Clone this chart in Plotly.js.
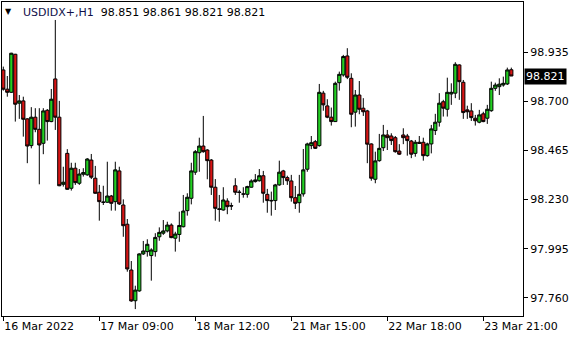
<!DOCTYPE html>
<html>
<head>
<meta charset="utf-8">
<script src="https://cdn.plot.ly/plotly-3.0.1.min.js"></script>
<style>html,body{margin:0;padding:0;background:#fff;}#chart{width:580px;height:340px;}</style>
</head>
<body>
<div id="chart"></div>
<script>
const symbolLabel = "USDIDX+,H1";
const lastOHLC = ["98.851", "98.861", "98.821", "98.821"];
const lastPrice = 98.821;

const openP = [98.850,98.758,98.743,98.925,98.691,98.702,98.616,98.488,98.624,98.566,
98.499,98.657,98.603,98.807,98.624,98.303,98.451,98.284,98.380,98.308,
98.351,98.348,98.419,98.332,98.265,98.218,98.217,98.247,98.220,98.367,
98.204,98.112,97.893,97.746,97.793,97.970,97.981,97.962,97.981,98.052,
98.069,98.080,98.108,98.045,98.063,98.100,98.177,98.236,98.361,98.454,
98.486,98.467,98.419,98.289,98.186,98.180,98.223,98.201,98.296,98.266,
98.257,98.255,98.289,98.316,98.320,98.344,98.255,98.226,98.225,98.300,
98.367,98.335,98.319,98.239,98.215,98.257,98.375,98.488,98.507,98.488,
98.739,98.678,98.624,98.603,98.789,98.826,98.917,98.810,98.648,98.730,
98.667,98.654,98.496,98.327,98.416,98.478,98.539,98.534,98.526,98.462,
98.539,98.534,98.510,98.451,98.504,98.504,98.440,98.496,98.560,98.600,
98.698,98.662,98.735,98.739,98.874,98.791,98.659,98.654,98.619,98.600,
98.640,98.619,98.655,98.762,98.770,98.778,98.783,98.851];

const highP = [98.866,98.821,98.932,98.927,98.730,98.722,98.619,98.672,98.667,98.667,
98.667,98.663,98.759,99.089,98.702,98.387,98.471,98.406,98.406,98.376,
98.380,98.428,98.448,98.391,98.300,98.296,98.411,98.252,98.411,98.387,
98.231,98.137,97.936,97.818,97.973,98.032,98.040,97.997,98.069,98.097,
98.132,98.124,98.116,98.076,98.172,98.252,98.260,98.406,98.467,98.526,
98.630,98.471,98.424,98.328,98.252,98.289,98.236,98.215,98.332,98.276,
98.289,98.296,98.327,98.352,98.376,98.367,98.281,98.268,98.305,98.416,
98.372,98.344,98.348,98.295,98.348,98.472,98.502,98.534,98.515,98.783,
98.750,98.710,98.670,98.794,98.842,98.922,98.954,98.834,98.754,98.797,
98.715,98.659,98.499,98.459,98.544,98.587,98.563,98.547,98.534,98.495,
98.571,98.544,98.515,98.515,98.534,98.526,98.502,98.587,98.640,98.739,
98.707,98.813,98.786,98.887,98.877,98.802,98.679,98.691,98.635,98.659,
98.650,98.683,98.794,98.789,98.810,98.818,98.861,98.861];

const lowP = [98.751,98.722,98.740,98.603,98.616,98.531,98.404,98.475,98.552,98.303,
98.447,98.512,98.600,98.563,98.294,98.292,98.277,98.273,98.300,98.300,
98.340,98.344,98.328,98.258,98.129,98.204,98.215,98.177,98.177,98.204,
98.052,97.885,97.741,97.706,97.789,97.965,97.957,97.842,97.957,98.033,
98.061,98.073,98.045,97.981,98.028,98.097,98.153,98.207,98.348,98.363,
98.454,98.327,98.252,98.129,98.124,98.177,98.160,98.180,98.252,98.215,
98.239,98.239,98.287,98.311,98.316,98.215,98.167,98.153,98.180,98.296,
98.300,98.300,98.220,98.185,98.167,98.244,98.363,98.471,98.472,98.483,
98.655,98.619,98.584,98.601,98.751,98.818,98.806,98.576,98.579,98.638,
98.630,98.404,98.320,98.308,98.411,98.462,98.467,98.491,98.454,98.443,
98.495,98.440,98.428,98.435,98.496,98.416,98.435,98.451,98.539,98.579,
98.627,98.627,98.683,98.715,98.707,98.616,98.616,98.606,98.584,98.595,
98.600,98.592,98.650,98.750,98.730,98.770,98.778,98.821];

const closeP = [98.758,98.743,98.930,98.686,98.702,98.614,98.486,98.624,98.566,98.491,
98.654,98.603,98.710,98.624,98.296,98.313,98.279,98.380,98.311,98.352,
98.359,98.424,98.337,98.260,98.220,98.217,98.247,98.212,98.372,98.209,
98.105,97.898,97.745,97.797,97.970,97.984,98.016,97.989,98.049,98.073,
98.080,98.108,98.048,98.065,98.106,98.175,98.241,98.367,98.459,98.486,
98.459,98.416,98.289,98.188,98.183,98.228,98.196,98.199,98.265,98.264,
98.256,98.292,98.319,98.324,98.344,98.260,98.225,98.224,98.300,98.361,
98.335,98.320,98.239,98.212,98.255,98.372,98.496,98.502,98.475,98.743,
98.683,98.624,98.603,98.786,98.829,98.914,98.815,98.638,98.730,98.662,
98.650,98.495,98.332,98.415,98.475,98.539,98.526,98.512,98.459,98.447,
98.526,98.512,98.447,98.504,98.499,98.440,98.496,98.568,98.600,98.691,
98.667,98.743,98.743,98.877,98.794,98.646,98.650,98.622,98.607,98.635,
98.603,98.662,98.762,98.778,98.782,98.786,98.850,98.821];

const xTickVals = [0, 24, 48, 72, 96, 120];
const xTickText = ["16 Mar 2022", "17 Mar 09:00", "18 Mar 12:00", "21 Mar 15:00", "22 Mar 18:00", "23 Mar 21:00"];
const yTickVals = [97.760, 97.995, 98.230, 98.465, 98.700, 98.935];
const yTickText = ["97.760", "97.995", "98.230", "98.465", "98.700", "98.935"];

const barIndex = openP.map((_, i) => i);

const font = {family: "DejaVu Sans, Verdana, sans-serif", size: 11, color: "#000"};

const trace = {
  type: "candlestick",
  x: barIndex,
  open: openP, high: highP, low: lowP, close: closeP,
  increasing: {line: {color: "#000", width: 1}, fillcolor: "#22d022"},
  decreasing: {line: {color: "#000", width: 1}, fillcolor: "#d81414"},
  whiskerwidth: 0,
  hoverinfo: "skip"
};

const layout = {
  width: 580, height: 340,
  margin: {l: 2, r: 57, t: 2, b: 24, pad: 0},
  paper_bgcolor: "#fff", plot_bgcolor: "#fff",
  font: font,
  showlegend: false,
  boxgap: 0.2,
  boxgroupgap: 0,
  xaxis: {
    range: [-0.325, 129.925],
    rangeslider: {visible: false},
    showgrid: false, zeroline: false,
    showline: true, linecolor: "#000", linewidth: 1, mirror: true,
    ticks: "outside", ticklen: 4, tickcolor: "#000",
    tickvals: xTickVals, ticktext: xTickText,
    ticklabelposition: "outside right",
    tickfont: font, fixedrange: true
  },
  yaxis: {
    side: "right",
    range: [97.673, 99.175],
    showgrid: false, zeroline: false,
    showline: true, linecolor: "#000", linewidth: 1, mirror: true,
    ticks: "outside", ticklen: 4, tickcolor: "#000",
    tickvals: yTickVals, ticktext: yTickText,
    tickfont: font, fixedrange: true
  },
  annotations: [
    {xref: "paper", yref: "paper", x: 0.0134, y: 0.97, xanchor: "center", yanchor: "middle",
     text: "▼", showarrow: false, font: {family: font.family, size: 8, color: "#000"}},
    {xref: "paper", yref: "paper", x: 0.036, y: 0.965, xanchor: "left", yanchor: "middle",
     text: '<span style="color:#10104a">' + symbolLabel + '</span>  ' + lastOHLC.join(" "),
     showarrow: false, font: font},
    {xref: "paper", yref: "y", x: 1, y: lastPrice, xanchor: "left", yanchor: "middle", xshift: 1,
     text: lastPrice.toFixed(3), showarrow: false, bgcolor: "#000", borderpad: 1,
     font: {family: font.family, size: 11, color: "#fff"}}
  ]
};

Plotly.newPlot("chart", [trace], layout, {staticPlot: true, displayModeBar: false});
</script>
</body>
</html>
